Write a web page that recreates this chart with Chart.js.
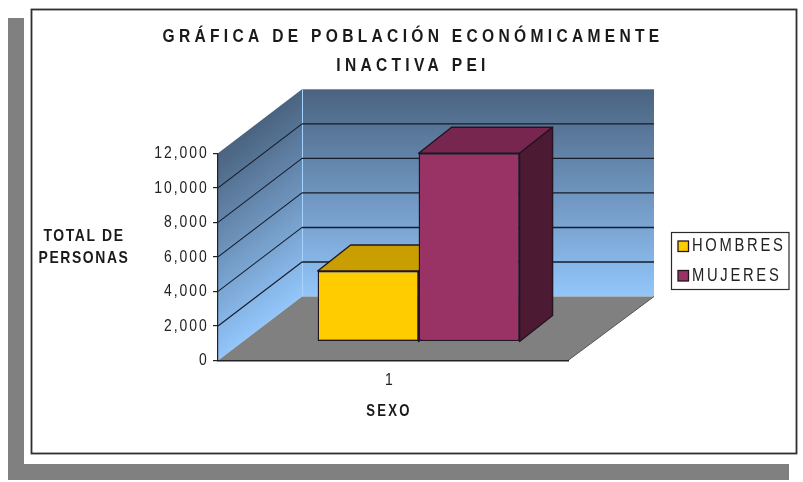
<!DOCTYPE html>
<html lang="es"><head><meta charset="utf-8">
<style>html,body{margin:0;padding:0;background:#fff}canvas{display:block}</style>
<script src="https://cdn.jsdelivr.net/npm/chart.js@4"></script>
</head><body><canvas id="c" width="803" height="482"></canvas>
<script>
const categories = ['1'];
const hombres = [4080];
const mujeres = [10900];
const seriesNames = ['HOMBRES', 'MUJERES'];
const titleLines = ['GRÁFICA DE POBLACIÓN ECONÓMICAMENTE', 'INACTIVA PEI'];
const yTitleLines = ['TOTAL DE', 'PERSONAS'];
const xTitle = 'SEXO';

const FONT = "'Liberation Sans', Arial, sans-serif";
const NARROW = 0.82;                  // the reference type is horizontally condensed
const WALL = {dx: 84, dy: 64, extra: 2};
const BAR_FRONT = {dx: 25.6, dy: 19};
const BAR_DEPTH = {dx: 33, dy: 26};
const sideColors = [{top:'#c89e00', side:'#9c7c00'}, {top:'#772650', side:'#4d1a33'}];
const LEGEND_BOX = {x:671.5, y:232.5, w:117.5, h:57};

function poly(ctx, pts, fill, stroke, lw){
  ctx.beginPath();
  pts.forEach((p,i)=> i?ctx.lineTo(p[0],p[1]):ctx.moveTo(p[0],p[1]));
  ctx.closePath();
  if(fill){ctx.fillStyle=fill;ctx.fill();}
  if(stroke){ctx.strokeStyle=stroke;ctx.lineWidth=lw;ctx.lineJoin='round';ctx.stroke();}
}
function condense(ctx, anchor, spacing){
  ctx.letterSpacing = (spacing/NARROW)+'px';
  ctx.translate(anchor,0); ctx.scale(NARROW,1); ctx.translate(-anchor,0);
}
function spaced(obj, name, spacing, anchor, shift){
  const orig = obj[name];
  obj[name] = function(...a){
    const ctx = this.ctx; ctx.save();
    if(shift) ctx.translate(shift,0);
    condense(ctx, anchor, spacing);
    const r = orig.apply(this,a); ctx.restore(); return r;
  };
}
const scene = {
  id:'scene',
  afterLayout(chart){
    const t = chart.titleBlock, l = chart.legend;
    t.left = 0; t.right = 826;
    l.left = 666.5; l.right = 850; l.top = 226; l.bottom = 320;
    if(!chart.$wrapped){
      chart.$wrapped = true;
      spaced(t,'draw',4.3,413);
      spaced(l,'draw',2.7,692);
      spaced(chart.scales.y,'drawLabels',2,208);
      spaced(chart.scales.x,'drawLabels',0,393);
      spaced(chart.scales.x,'drawTitle',2.2,393,-4);
    }
  },
  beforeDraw(chart){
    const ctx = chart.ctx, a = chart.chartArea, y = chart.scales.y;
    const {dx,dy,extra} = WALL;
    const backRight = a.right+dx+extra;
    ctx.save();
    ctx.fillStyle='#fff'; ctx.fillRect(0,0,803,482);
    // drop shadow
    ctx.fillStyle='#808080';
    ctx.fillRect(8,18,16,462); ctx.fillRect(8,464,781,16);
    // frame
    ctx.strokeStyle='#2e2e2e'; ctx.lineWidth=1.8; ctx.strokeRect(31.5,9.5,765,444);
    // back wall
    const g = ctx.createLinearGradient(0,a.top-dy,0,a.bottom-dy);
    g.addColorStop(0,'#4a6380'); g.addColorStop(1,'#93c6fb');
    ctx.fillStyle=g; ctx.fillRect(a.left+dx,a.top-dy,backRight-a.left-dx,a.height);
    // side wall: gradient runs across the skewed wall
    const L = Math.hypot(dx,dy), nx = dy/L, ny = dx/L, len = a.height*ny;
    const g2 = ctx.createLinearGradient(a.left,a.top,a.left+nx*len,a.top+ny*len);
    g2.addColorStop(0,'#4a6380'); g2.addColorStop(1,'#93c6fb');
    poly(ctx,[[a.left,a.top],[a.left+dx,a.top-dy],[a.left+dx,a.bottom-dy],[a.left,a.bottom]],g2);
    // floor
    poly(ctx,[[a.left,a.bottom],[a.left+dx,a.bottom-dy],[backRight,a.bottom-dy],[a.right,a.bottom]],'#808080');
    // wall corner highlight
    ctx.strokeStyle='#a5d2ff'; ctx.lineWidth=1;
    ctx.beginPath(); ctx.moveTo(a.left+dx+.5,a.top-dy); ctx.lineTo(a.left+dx+.5,a.bottom-dy); ctx.stroke();
    // gridlines from the y scale
    ctx.strokeStyle='#151c2c';
    y.ticks.forEach(t=>{
      if(t.value===0||t.value===y.max) return;
      const py=y.getPixelForValue(t.value);
      ctx.lineWidth=1.1;
      ctx.beginPath(); ctx.moveTo(a.left,py); ctx.lineTo(a.left+dx,py-dy); ctx.stroke();
      ctx.lineWidth=1.4;
      ctx.beginPath(); ctx.moveTo(a.left+dx,py-dy); ctx.lineTo(backRight,py-dy); ctx.stroke();
    });
    // floor right edge
    ctx.strokeStyle='#555'; ctx.lineWidth=1;
    ctx.beginPath(); ctx.moveTo(a.right,a.bottom); ctx.lineTo(backRight,a.bottom-dy); ctx.stroke();
    ctx.restore();
  },
  beforeDatasetsDraw(chart){
    const ctx = chart.ctx;
    ctx.save();
    ctx.translate(BAR_FRONT.dx,-BAR_FRONT.dy);
    [0,1].forEach(i=>{
      const b = chart.getDatasetMeta(i).data[0];
      const base = chart.scales.y.getPixelForValue(0);
      const x0=b.x-b.width/2, x1=b.x+b.width/2, d=BAR_DEPTH;
      const c=sideColors[i], s='#241420';
      poly(ctx,[[x0,b.y],[x0+d.dx,b.y-d.dy],[x1+d.dx,b.y-d.dy],[x1,b.y]],c.top,s,1.4);
      poly(ctx,[[x1,b.y],[x1+d.dx,b.y-d.dy],[x1+d.dx,base-d.dy],[x1,base]],c.side,s,1.4);
    });
    ctx.restore();
  },
  beforeDatasetDraw(chart){
    chart.ctx.save(); chart.ctx.translate(BAR_FRONT.dx,-BAR_FRONT.dy);
  },
  afterDatasetDraw(chart){ chart.ctx.restore(); },
  afterDraw(chart){
    const ctx = chart.ctx, B = LEGEND_BOX;
    ctx.save();
    ctx.strokeStyle='#2a2a2a'; ctx.lineWidth=1.2;
    ctx.strokeRect(B.x,B.y,B.w,B.h);
    // legend swatches in dataset colours
    chart.data.datasets.forEach((ds,i)=>{
      ctx.fillStyle=ds.backgroundColor; ctx.strokeStyle=ds.borderColor; ctx.lineWidth=1.3;
      ctx.fillRect(678,241+29.5*i,10.5,10.5);
      ctx.strokeRect(678,241+29.5*i,10.5,10.5);
    });
    ctx.fillStyle='#1a1a1a'; ctx.font='bold 17px '+FONT; ctx.textAlign='center'; ctx.textBaseline='middle';
    condense(ctx,84,1.6);
    ctx.fillText(yTitleLines[0],84,236);
    ctx.fillText(yTitleLines[1],84,258);
    ctx.restore();
  }
};

new Chart(document.getElementById('c'),{
  type:'bar',
  plugins:[scene],
  data:{labels:categories,datasets:[
    {label:seriesNames[0],data:hombres,backgroundColor:'#ffcc00',borderColor:'#241420',borderWidth:1.4,borderSkipped:false,clip:false},
    {label:seriesNames[1],data:mujeres,backgroundColor:'#993366',borderColor:'#241420',borderWidth:1.4,borderSkipped:false,clip:false}
  ]},
  options:{
    responsive:false,animation:false,
    layout:{padding:{left:0,right:235,top:0,bottom:0}},
    datasets:{bar:{barPercentage:1,categoryPercentage:0.577}},
    plugins:{
      tooltip:{enabled:false},
      title:{display:true,text:titleLines,color:'#1a1a1a',
        font:{family:FONT,size:19,weight:'bold',lineHeight:29/19},
        padding:{top:22.5,bottom:72.8}},
      legend:{position:'chartArea',align:'start',
        labels:{boxWidth:5,boxHeight:5,padding:11.5,color:'#222',font:{family:FONT,size:18}}}
    },
    scales:{
      x:{
        afterFit(s){s.height=121.5;},
        grid:{display:false},
        border:{display:true,color:'#222',width:1.4},
        ticks:{color:'#222',font:{family:FONT,size:17},labelOffset:-5,padding:2,maxRotation:0},
        title:{display:true,text:xTitle,color:'#1a1a1a',font:{family:FONT,size:16,weight:'bold'},padding:{top:0,bottom:61}}
      },
      y:{
        min:0,max:12000,
        afterFit(s){s.width=218;},
        grid:{drawOnChartArea:false,drawTicks:true,tickLength:5,color:'#222',lineWidth:1.2},
        border:{display:true,color:'#222',width:1.2},
        ticks:{stepSize:2000,color:'#222',font:{family:FONT,size:17},padding:4}
      }
    }
  }
});
</script></body></html>
